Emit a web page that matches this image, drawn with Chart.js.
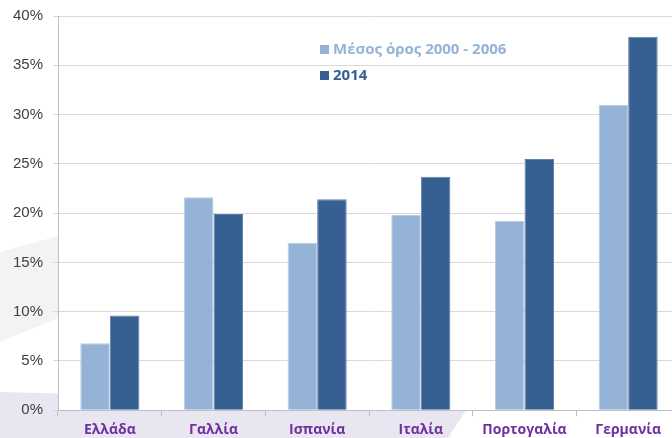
<!DOCTYPE html>
<html>
<head>
<meta charset="utf-8">
<script src="https://cdn.jsdelivr.net/npm/chart.js@4/dist/chart.umd.min.js"></script>
<style>
  html, body { margin: 0; padding: 0; background: #fff; overflow: hidden; }
  .wrap { position: absolute; left: 0; top: 0; width: 690px; height: 450px; }
  .swoosh { position: absolute; left: 0; top: 0; width: 672px; height: 438px;
    background: #e8e6f1; clip-path: polygon(0 392px, 470px 404px, 448px 438px, 0 438px); }
  .swoosh2 { position: absolute; left: 0; top: 0; width: 672px; height: 438px;
    background: #f3f3f6; clip-path: polygon(0 252px, 58px 236px, 58px 318px, 0 342px); }
</style>
</head>
<body>
<div class="swoosh"></div>
<div class="swoosh2"></div>
<div class="wrap"><canvas id="chart"></canvas></div>
<script>
const categories = ["Ελλάδα", "Γαλλία", "Ισπανία", "Ιταλία", "Πορτογαλία", "Γερμανία"];
const avg2000to2006 = [6.8, 21.6, 17.0, 19.8, 19.2, 31.0];
const values2014 = [9.6, 19.9, 21.4, 23.7, 25.5, 37.9];
const seriesLabels = ["Μέσος όρος 2000 - 2006", "2014"];
const yTicks = [0, 5, 10, 15, 20, 25, 30, 35, 40];

const lightBlue = "#95b3d7";
const darkBlue = "#376092";

// white plot area over the page background
const plotBackground = {
  id: "plotBackground",
  beforeDraw(chart) {
    const a = chart.chartArea;
    chart.ctx.save();
    chart.ctx.fillStyle = "#fff";
    chart.ctx.fillRect(a.left, a.top, a.right - a.left, a.bottom - a.top);
    chart.ctx.restore();
  }
};

// legend drawn inside the plot area, stacked
const innerLegend = {
  id: "innerLegend",
  afterDraw(chart) {
    const ctx = chart.ctx;
    const x = 320, y0 = 50, gap = 26;
    ctx.save();
    ctx.font = "bold 15px 'Open Sans', sans-serif";
    ctx.textBaseline = "middle";
    chart.data.datasets.forEach((ds, i) => {
      const y = y0 + i * gap;
      ctx.fillStyle = ds.backgroundColor;
      ctx.fillRect(x, y - 5, 9, 9);
      ctx.fillText(ds.label, x + 13, y);
    });
    ctx.restore();
  }
};

new Chart(document.getElementById("chart"), {
  type: "bar",
  data: {
    labels: categories,
    datasets: [
      {
        label: seriesLabels[0],
        data: avg2000to2006,
        backgroundColor: lightBlue,
        borderColor: "#b9cce4",
        borderWidth: 1,
        categoryPercentage: 0.57,
        barPercentage: 1.0,
      },
      {
        label: seriesLabels[1],
        data: values2014,
        backgroundColor: darkBlue,
        borderColor: "#5f7fa8",
        borderWidth: 1,
        categoryPercentage: 0.57,
        barPercentage: 1.0,
      },
    ],
  },
  options: {
    responsive: true,
    maintainAspectRatio: false,
    animation: false,
    layout: { padding: { top: 16, right: 10, bottom: 7, left: 0 } },
    plugins: { legend: { display: false }, tooltip: { enabled: false } },
    scales: {
      x: {
        grid: { offset: true, drawOnChartArea: false, drawTicks: true, tickLength: 6, color: "#bfbfbf" },
        border: { color: "#bfbfbf" },
        ticks: {
          color: "#7030a0",
          font: { family: "'Open Sans', sans-serif", size: 14, weight: "bold" },
          padding: 5,
          maxRotation: 0,
        },
      },
      y: {
        min: 0,
        max: 40,
        afterBuildTicks(scale) {
          scale.ticks = yTicks.map(v => ({ value: v }));
        },
        afterFit(scale) {
          scale.width = 58;
          scale.paddingTop = 0;
          scale.paddingBottom = 0;
        },
        grid: { color: "#d9d9d9", tickLength: 5 },
        border: { color: "#bfbfbf" },
        ticks: {
          color: "#404040",
          font: { family: "'Liberation Sans', sans-serif", size: 15 },
          padding: 10,
          callback: v => v + "%",
        },
      },
    },
  },
  plugins: [plotBackground, innerLegend],
});
</script>
</body>
</html>
